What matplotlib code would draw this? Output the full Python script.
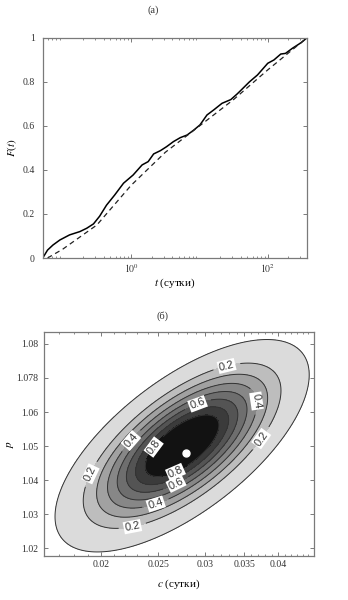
import numpy as np
import matplotlib
matplotlib.use('Agg')
import matplotlib.pyplot as plt
from matplotlib.ticker import FixedLocator, FixedFormatter, NullFormatter, LogLocator

plt.rcParams['mathtext.fontset'] = 'stix'

# (а) эмпирическая и теоретическая функции распределения
t_emp = [0.051, 0.060, 0.072, 0.091, 0.126, 0.178, 0.224, 0.282, 0.347, 0.437,
         0.575, 0.776, 1.07, 1.45, 1.78, 2.14, 2.69, 3.31, 4.17, 5.25, 6.61,
         8.32, 10.2, 12.9, 16.2, 21.4, 28.8, 35.5, 39.8, 53.7, 70.8, 100.0,
         123.0, 155.0, 182.0, 229.0, 309.0, 372.0]
F_emp = [0.0, 0.036, 0.059, 0.082, 0.105, 0.12, 0.135, 0.155, 0.19, 0.24,
         0.286, 0.34, 0.377, 0.423, 0.438, 0.473, 0.488, 0.506, 0.529, 0.547,
         0.559, 0.582, 0.605, 0.65, 0.673, 0.703, 0.72, 0.745, 0.76, 0.80,
         0.832, 0.885, 0.90, 0.927, 0.93, 0.953, 0.979, 1.0]

t_model = [0.060, 0.1, 0.316, 1.0, 3.16, 10.0, 31.6, 100.0, 372.0]
F_model = [0.0, 0.04, 0.15, 0.33, 0.48, 0.60, 0.72, 0.855, 1.0]

# (б) функция правдоподобия L(c, p)
c_best = 0.02746      # центр, сутки
p_best = 1.0501
sigma_lnc = 0.2155    # ширина по ln c
sigma_p = 0.01353
rho = 0.667
c_dot = 0.0279
p_dot = 1.048
levels = [0.07, 0.2, 0.3, 0.4, 0.5, 0.6, 0.7, 0.8]
band_greys = ['0.86', '0.74', '0.63', '0.53', '0.43', '0.33', '0.23', '0.07']
label_levels = [0.2, 0.4, 0.6, 0.8]
label_pos = [(0.03275, 1.0729), (0.0377, 1.0518), (0.0197, 1.0409), (0.02267, 1.0253),
             (0.0377, 1.0635), (0.02223, 1.05235), (0.0249, 1.0318),
             (0.02901, 1.06353), (0.0269, 1.0385),
             (0.0254, 1.0478), (0.0269, 1.0415)]
c_ticks = [0.02, 0.025, 0.03, 0.035, 0.04]
c_ticklabels = ['0.02', '0.025', '0.03', '0.035', '0.04']
p_ticks = [1.02, 1.03, 1.04, 1.05, 1.06, 1.07, 1.08]
p_ticklabels = ['1.02', '1.03', '1.04', '1.05', '1.06', '1.078', '1.08']

serif = 'Liberation Serif'
axcol = '#7a7a7a'

fig = plt.figure(figsize=(3.48, 6.0), dpi=100)

def style_axes(ax, ypad):
    for s in ax.spines.values():
        s.set_color(axcol)
        s.set_linewidth(0.9)
    ax.tick_params(which='both', direction='in', top=True, right=True,
                   color=axcol, labelsize=7)
    ax.tick_params(axis='x', pad=3)
    ax.tick_params(axis='y', pad=ypad)
    ax.tick_params(which='major', length=3, width=0.7)
    ax.tick_params(which='minor', length=1.6, width=0.6)
    for lab in ax.get_xticklabels() + ax.get_yticklabels():
        lab.set_fontfamily(serif)
        lab.set_color('#333333')

# --- верхняя панель ---
ax1 = fig.add_axes([0.1236, 0.57, 0.759, 0.3667])
ax1.plot(t_emp, F_emp, color='black', lw=1.1)
ax1.plot(t_model, F_model, color='#222222', lw=0.9, ls=(0, (4, 3)))
ax1.set_xscale('log')
ax1.set_xlim(0.0515, 377)
ax1.set_ylim(0, 1)
ax1.xaxis.set_major_locator(FixedLocator([1, 100]))
ax1.xaxis.set_major_formatter(FixedFormatter(['$10^0$', '$10^2$']))
ax1.xaxis.set_minor_locator(LogLocator(base=10, subs=np.arange(2, 10), numticks=20))
ax1.xaxis.set_minor_formatter(NullFormatter())
ax1.set_yticks([0, 0.2, 0.4, 0.6, 0.8, 1.0])
ax1.set_yticklabels(['0', '0.2', '0.4', '0.6', '0.8', '1'])
style_axes(ax1, 6)
ax1.set_xlabel('$t$ (сутки)', fontfamily=serif, fontsize=8)
ax1.xaxis.set_label_coords(0.5, -0.114)
ax1.xaxis.label.set_va('center')
ax1.set_ylabel('$F(t)$', fontfamily=serif, fontsize=8)
ax1.yaxis.set_label_coords(-0.117, 0.5)
ax1.yaxis.label.set_va('center')
fig.text(0.44, 0.983, '(а)', fontfamily=serif, fontsize=7.5, ha='center', va='center', color='#333333')

# --- нижняя панель ---
ax2 = fig.add_axes([0.1264, 0.0733, 0.776, 0.3733])
ax2.set_xscale('log')
ax2.set_xlim(0.016, 0.046)
ax2.set_ylim(1.0177, 1.0835)

cc = np.exp(np.linspace(np.log(0.015), np.log(0.048), 400))
pp = np.linspace(1.015, 1.086, 400)
C, P = np.meshgrid(cc, pp)
u = (np.log(C) - np.log(c_best)) / sigma_lnc
v = (P - p_best) / sigma_p
L = np.exp(-(u**2 - 2 * rho * u * v + v**2) / (2 * (1 - rho**2)))

ax2.contourf(C, P, L, levels=levels + [1.01], colors=band_greys)
other = [lv for lv in levels if lv not in label_levels]
ax2.contour(C, P, L, levels=other, colors='#333333', linewidths=0.7)
cs = ax2.contour(C, P, L, levels=label_levels, colors='#333333', linewidths=0.7)
labels = ax2.clabel(cs, manual=label_pos, inline=True, fmt='%.1f', fontsize=8)
for lab in labels:
    lab.set_fontfamily('Liberation Sans')
    lab.set_bbox(dict(facecolor='white', edgecolor='none', pad=0.8))
ax2.plot([c_dot], [p_dot], 'o', color='white', ms=5, mec='white')

ax2.xaxis.set_major_locator(FixedLocator(c_ticks))
ax2.xaxis.set_major_formatter(FixedFormatter(c_ticklabels))
ax2.xaxis.set_minor_locator(FixedLocator(np.arange(0.016, 0.0465, 0.001)))
ax2.xaxis.set_minor_formatter(NullFormatter())
ax2.yaxis.set_major_locator(FixedLocator(p_ticks))
ax2.yaxis.set_major_formatter(FixedFormatter(p_ticklabels))
style_axes(ax2, 4)
ax2.set_xlabel('$c$ (сутки)', fontfamily=serif, fontsize=8)
ax2.xaxis.set_label_coords(0.5, -0.125)
ax2.xaxis.label.set_va('center')
ax2.set_ylabel('$p$', fontfamily=serif, fontsize=8)
ax2.yaxis.set_label_coords(-0.126, 0.5)
ax2.yaxis.label.set_va('center')
fig.text(0.466, 0.473, '(б)', fontfamily=serif, fontsize=7.5, ha='center', va='center', color='#333333')

fig.savefig('out.png', dpi=100)
